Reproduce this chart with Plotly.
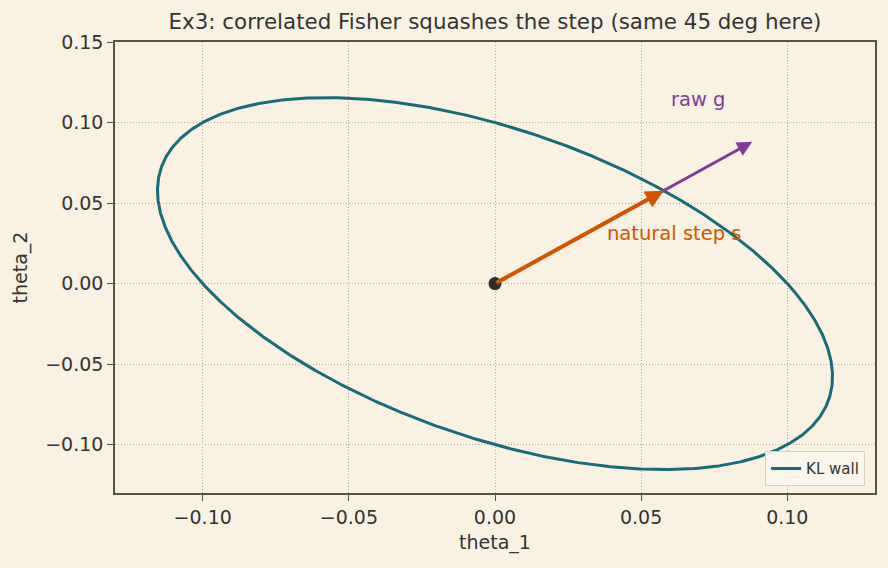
import numpy as np
import plotly.graph_objects as go

# --- data ---
fisher = [[1.0, 0.5], [0.5, 1.0]]   # correlated Fisher matrix
kl_radius = 0.01                     # s^T F s = kl_radius defines the KL wall
raw_g = [0.088, 0.088]               # raw gradient direction
natural_s = [0.0577, 0.0577]         # natural step (on the wall)
origin = [0.0, 0.0]
x_ticks = [-0.10, -0.05, 0.00, 0.05, 0.10]
x_tick_text = ["\u22120.10", "\u22120.05", "0.00", "0.05", "0.10"]
y_ticks = [-0.10, -0.05, 0.00, 0.05, 0.10, 0.15]
y_tick_text = ["\u22120.10", "\u22120.05", "0.00", "0.05", "0.10", "0.15"]

# ellipse boundary from the Fisher matrix
F = np.array(fisher)
t = np.linspace(0, 2 * np.pi, 1500)
u = np.stack([np.cos(t), np.sin(t)])
r = np.sqrt(kl_radius / np.einsum("ij,ik,kj->j", u, F, u))
ex, ey = r * u[0], r * u[1]

BG = "#f9f2e3"
FRAME = "#5a5142"
TEXT = "#333333"
TEAL = "#1a6b78"
ORANGE = "#d35400"
PURPLE = "#7d3c98"
FONT = "DejaVu Sans"

fig = go.Figure()
fig.add_trace(go.Scatter(x=ex, y=ey, mode="lines", line=dict(color=TEAL, width=3),
                         name="KL wall", showlegend=True))
fig.add_trace(go.Scatter(x=[origin[0]], y=[origin[1]], mode="markers",
                         marker=dict(color="#332e28", size=13), showlegend=False))

fig.add_annotation(x=raw_g[0], y=raw_g[1], ax=origin[0], ay=origin[1],
                   xref="x", yref="y", axref="x", ayref="y",
                   showarrow=True, arrowhead=2, arrowsize=1.0, arrowwidth=3,
                   arrowcolor=PURPLE, text="")
fig.add_annotation(x=natural_s[0], y=natural_s[1], ax=origin[0], ay=origin[1],
                   xref="x", yref="y", axref="x", ayref="y",
                   showarrow=True, arrowhead=2, arrowsize=0.9, arrowwidth=4,
                   arrowcolor=ORANGE, text="")
fig.add_annotation(x=0.0595, y=0.114, xref="x", yref="y", text="raw g", showarrow=False,
                   xanchor="left", yanchor="middle", font=dict(color=PURPLE, size=19.5, family=FONT))
fig.add_annotation(x=0.0375, y=0.031, xref="x", yref="y", text="natural step s", showarrow=False,
                   xanchor="left", yanchor="middle", font=dict(color=ORANGE, size=19.5, family=FONT))

axis_common = dict(showline=True, linecolor=FRAME, linewidth=1.5, mirror=True,
                   ticks="outside", ticklen=6, tickcolor=FRAME, tickwidth=1.2,
                   showgrid=True, gridcolor="#b3ab9c", griddash="1px,2px", gridwidth=1,
                   zeroline=False, tickfont=dict(size=19, color=TEXT, family=FONT))

fig.update_layout(
    width=888, height=568,
    paper_bgcolor=BG, plot_bgcolor=BG,
    margin=dict(l=115, r=13, t=42, b=75),
    font=dict(family=FONT, color=TEXT),
    title=dict(text="Ex3: correlated Fisher squashes the step (same 45 deg here)",
               x=0.5, xref="paper", xanchor="center",
               y=1 - 22 / 568, yanchor="middle", font=dict(size=21.4, color=TEXT, family=FONT)),
    xaxis=dict(range=[-0.13, 0.13], tickvals=x_ticks, ticktext=x_tick_text,
               title=dict(text="theta_1", font=dict(size=19, color=TEXT, family=FONT), standoff=9),
               **axis_common),
    yaxis=dict(range=[-0.13, 0.15], tickvals=y_ticks, ticktext=y_tick_text,
               title=dict(text="theta_2", font=dict(size=19, color=TEXT, family=FONT), standoff=13),
               **axis_common),
    legend=dict(x=0.987, y=0.015, xanchor="right", yanchor="bottom",
                bgcolor="rgba(251,246,236,0.9)", bordercolor="#d9d2c4", borderwidth=1,
                font=dict(size=15, color=TEXT, family=FONT)),
)

fig.write_html("out.html")
